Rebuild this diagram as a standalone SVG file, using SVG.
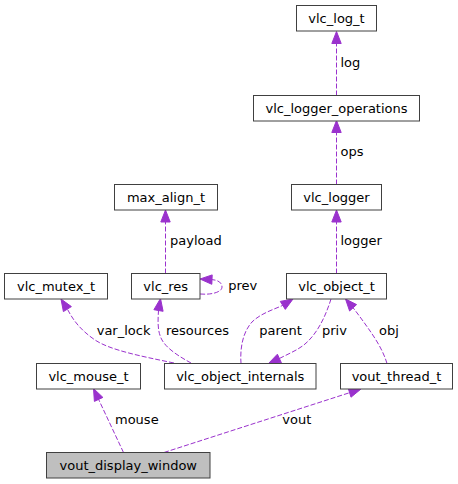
<svg xmlns="http://www.w3.org/2000/svg" width="458" height="484" viewBox="0 0 458 484">
<style>
.n rect{fill:#ffffff;stroke:#404040;stroke-width:1}
.n.hl rect{fill:#bfbfbf}
text{font-family:"DejaVu Sans","Liberation Sans",sans-serif;font-size:13px;fill:#000000}
.n text{text-anchor:middle}
.e path{fill:none;stroke:#9a32cd;stroke-width:1;stroke-dasharray:5,2}
.e polygon{fill:#9a32cd;stroke:#9a32cd;stroke-width:1}
</style>
<rect x="0" y="0" width="458" height="484" fill="#ffffff"/>
<g id="edges" class="e">
<g id="e_log"><path d="M336.5,95.5 V43.5"/><polygon points="336.5,31.5 341.2,43.5 331.8,43.5"/><text x="340.5" y="66.7">log</text></g>
<g id="e_ops"><path d="M336.5,184.5 V132.5"/><polygon points="336.5,120.5 341.2,132.5 331.8,132.5"/><text x="340.5" y="156">ops</text></g>
<g id="e_logger"><path d="M336.5,273.5 V222"/><polygon points="336.5,210 341.2,222 331.8,222"/><text x="340.5" y="244.7">logger</text></g>
<g id="e_payload"><path d="M165.5,273.5 V222"/><polygon points="165.5,210 170.2,222 160.8,222"/><text x="170" y="244.7">payload</text></g>
<g id="e_prev"><path d="M200,294 C212,295 222,292 222,287 C222,282 217,280 212,279.6"/><polygon points="200,279 212.2,274.9 211.8,284.3"/><text x="228.3" y="290">prev</text></g>
<g id="e_var_lock"><path d="M174,363 C140,356 110,350 95,340 C82,331 74,322 67.4,309.1"/><polygon points="61,299 71.4,306.6 63.4,311.6"/><text x="96.7" y="335">var_lock</text></g>
<g id="e_resources"><path d="M191,363 C180,357 167,349 162,340 C157,331 158,320 158.5,310.5"/><polygon points="160.5,298.5 163.1,311.3 153.9,309.7"/><text x="166" y="335">resources</text></g>
<g id="e_parent"><path d="M241,363.5 C240,350 242,333 252,322 C260,314 272,310 282.8,305.4"/><polygon points="293,299 285.3,309.4 280.3,301.4"/><text x="259.3" y="335">parent</text></g>
<g id="e_priv"><path d="M331,299 C326,315 318,333 305,344 C298,350 288,354 279.4,358.5"/><polygon points="268.5,363.5 281.4,362.8 277.4,354.2"/><text x="322" y="335">priv</text></g>
<g id="e_obj"><path d="M387,363.5 C383,350 375,338 368,328 C363,321 358,314 353.1,307.8"/><polygon points="345.5,299 356.6,304.6 349.6,311"/><text x="379" y="335">obj</text></g>
<g id="e_mouse"><path d="M123.5,452.5 L98.6,399.4"/><polygon points="93.5,388.5 102.9,397.4 94.4,401.4"/><text x="115" y="424">mouse</text></g>
<g id="e_vout"><path d="M164,452.5 L349.6,392.7"/><polygon points="361,389 351,397.2 348.2,388.2"/><text x="282.3" y="424">vout</text></g>
</g>
<g id="n_vlc_log_t" class="n"><rect x="296.5" y="5.5" width="80" height="25.5"/><text x="336.5" y="23">vlc_log_t</text></g>
<g id="n_vlc_logger_operations" class="n"><rect x="253.5" y="95.5" width="166" height="25.5"/><text x="336.5" y="113">vlc_logger_operations</text></g>
<g id="n_vlc_logger" class="n"><rect x="291.5" y="184.5" width="90" height="25.5"/><text x="336.5" y="202">vlc_logger</text></g>
<g id="n_max_align_t" class="n"><rect x="114.5" y="184.5" width="103" height="25.5"/><text x="166" y="202">max_align_t</text></g>
<g id="n_vlc_mutex_t" class="n"><rect x="4.5" y="273.5" width="103" height="25.5"/><text x="56" y="291">vlc_mutex_t</text></g>
<g id="n_vlc_res" class="n"><rect x="131.5" y="273.5" width="68.5" height="25.5"/><text x="165.75" y="291">vlc_res</text></g>
<g id="n_vlc_object_t" class="n"><rect x="286.5" y="273.5" width="100" height="25.5"/><text x="336.5" y="291">vlc_object_t</text></g>
<g id="n_vlc_mouse_t" class="n"><rect x="36.5" y="363.5" width="104" height="25.5"/><text x="88.5" y="381">vlc_mouse_t</text></g>
<g id="n_vlc_object_internals" class="n"><rect x="164.5" y="363.5" width="151.5" height="25.5"/><text x="240.25" y="381">vlc_object_internals</text></g>
<g id="n_vout_thread_t" class="n"><rect x="340.5" y="363.5" width="112" height="25.5"/><text x="396.5" y="381">vout_thread_t</text></g>
<g id="n_vout_display_window" class="n hl"><rect x="46.5" y="452.5" width="163.5" height="25.5"/><text x="128.25" y="470">vout_display_window</text></g>
</svg>
